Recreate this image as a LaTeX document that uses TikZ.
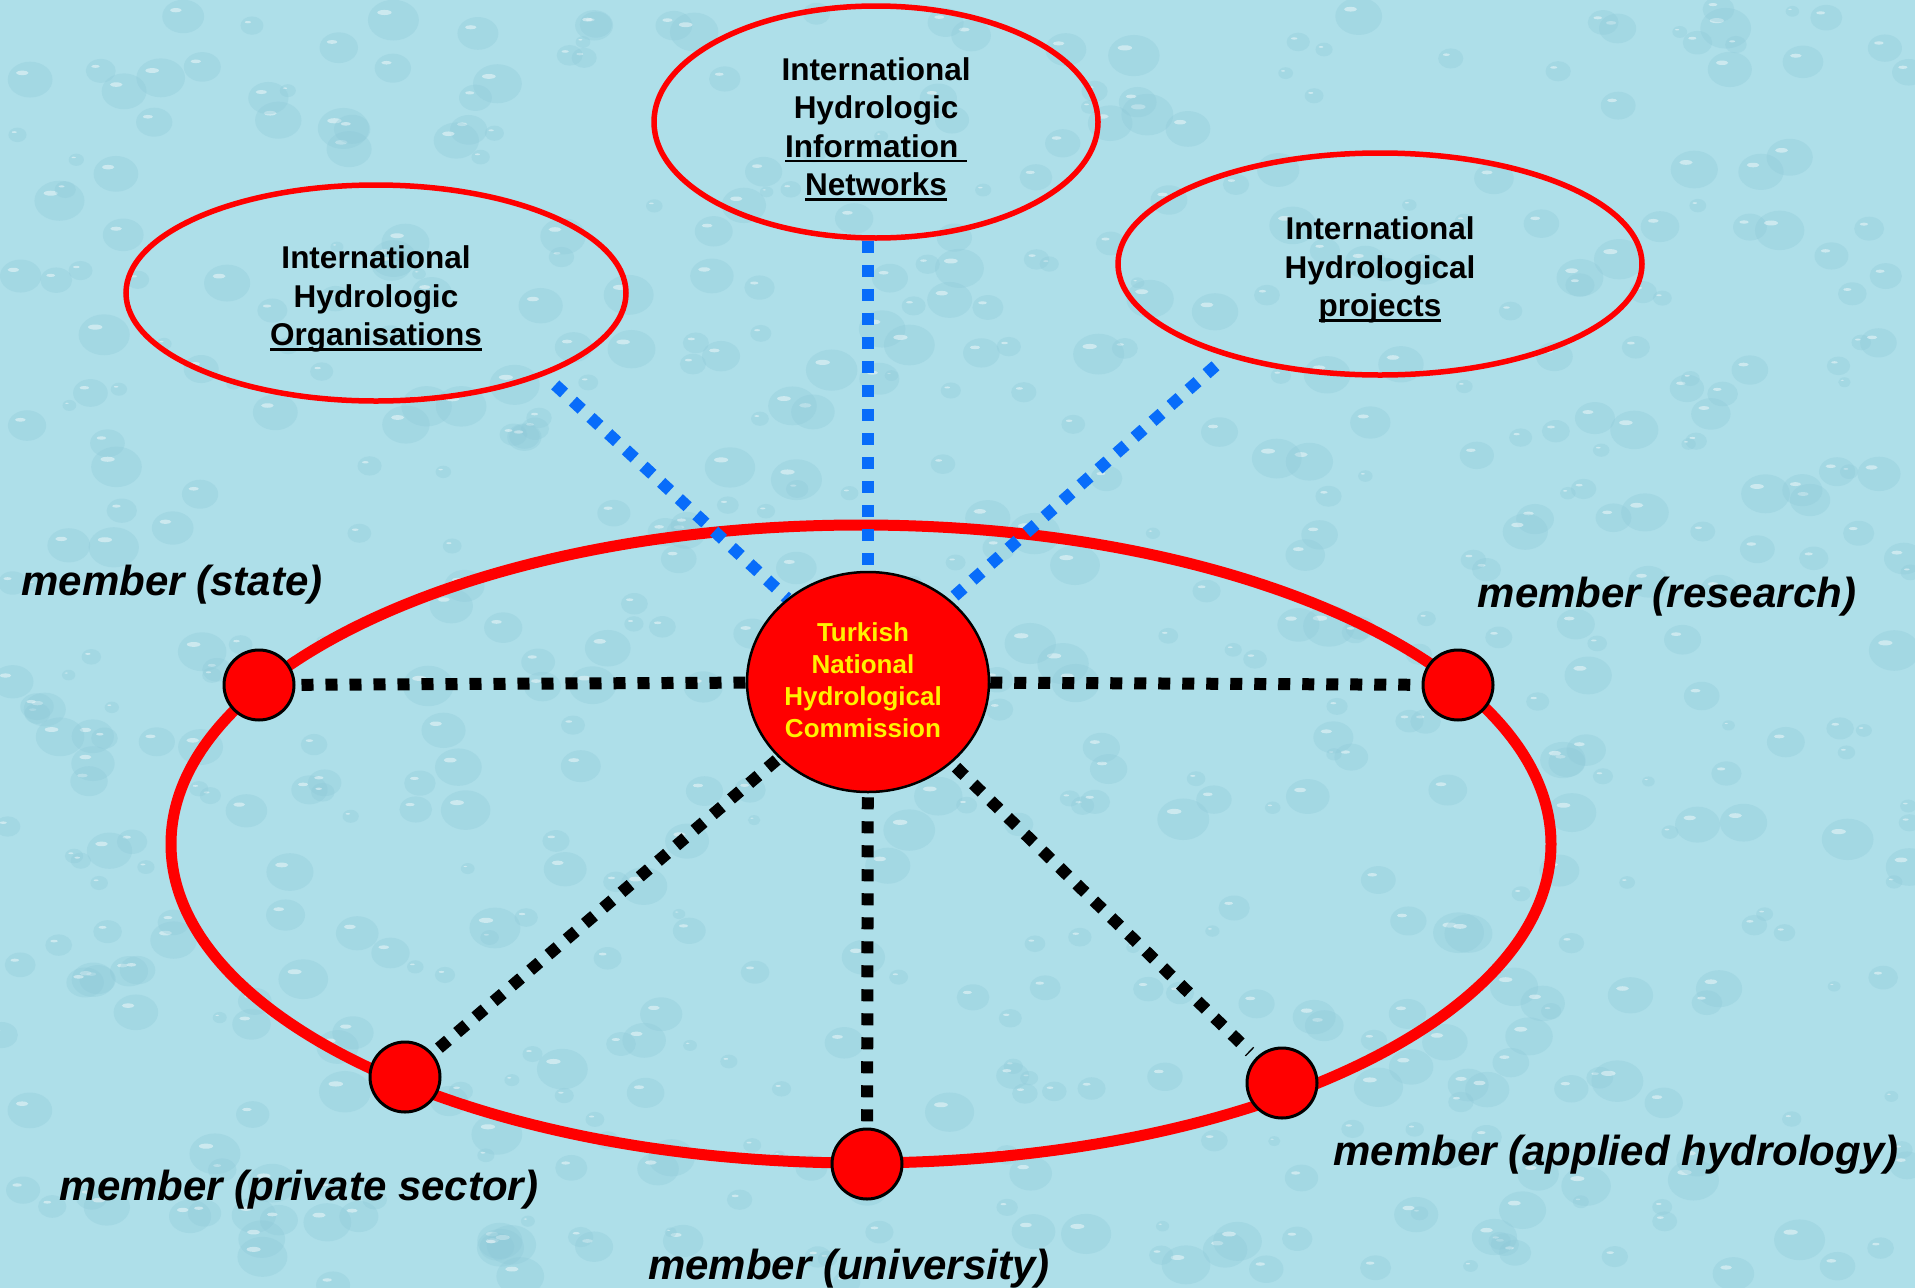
\documentclass[tikz,border=0pt]{standalone}
\usepackage{fontspec}
\setmainfont{Liberation Sans}
\usetikzlibrary{shapes.geometric}
\pgfdeclarelayer{bg}
\pgfsetlayers{bg,main}
\definecolor{water}{RGB}{174,223,233}
\definecolor{drop}{RGB}{140,200,216}
\definecolor{linkblue}{RGB}{8,108,250}
\newcommand\myul[1]{\setbox0\hbox{#1}\rlap{\rule[-5pt]{\wd0}{2.5pt}}\box0}
\begin{document}
\begin{tikzpicture}[x=1pt,y=-1pt,
  intl/.style={ellipse, draw=red, line width=5.5pt, inner sep=0pt},
  intltext/.style={align=center, inner sep=0pt, font=\fontsize{31.5}{38.5}\selectfont\bfseries},
  member/.style={circle, fill=red, draw=black, line width=3pt, minimum size=70pt, inner sep=0pt},
  memlabel/.style={font=\fontsize{42}{50}\selectfont\bfseries\itshape, inner sep=0pt},
  blink/.style={draw=linkblue, line width=12pt, dash pattern=on 12pt off 12pt},
  klink/.style={draw=black, line width=12pt, dash pattern=on 12pt off 12pt},
]
\useasboundingbox (0,0) rectangle (1915,1288);

% international partners
\node[intl, minimum width=500pt, minimum height=216pt,
  label={[intltext, yshift=-6pt]center:International\\Hydrologic\\\myul{Organisations}}] (orgs) at (376,293) {};
\node[intl, minimum width=444pt, minimum height=232pt,
  label={[intltext, yshift=-7pt]center:International\\Hydrologic\\\myul{Information\ }\\\myul{Networks}}] (nets) at (876,122) {};
\node[intl, minimum width=524pt, minimum height=222pt,
  label={[intltext, yshift=-6pt]center:International\\Hydrological\\\myul{projects}}] (proj) at (1380,264) {};

% commission
\node[ellipse, fill=red, draw=black, line width=2.5pt, minimum width=242pt, minimum height=220pt,
  inner sep=0pt,
  label={[align=center, inner sep=0pt, text=yellow, font=\fontsize{26}{31.8}\selectfont\bfseries,
    xshift=-5pt, yshift=2pt]center:Turkish\\National\\Hydrological\\Commission}]
  (tnhc) at (868,682) {};

% members
\node[member] (state) at (259,685) {};
\node[member] (research) at (1458,685) {};
\node[member] (private) at (405,1077) {};
\node[member] (uni) at (867,1164) {};
\node[member] (applied) at (1282,1083) {};

\node[memlabel] (lstate) at (172,585) {member (state)};
\node[memlabel] (lresearch) at (1667,597) {member (research)};
\node[memlabel] (lprivate) at (299,1190) {member (private sector)};
\node[memlabel] (luni) at (849,1269) {member (university)};
\node[memlabel] (lapplied) at (1616,1155) {member (applied hydrology)};

\begin{pgfonlayer}{bg}
\fill[water] (0,0) rectangle (1915,1288);
\pgfmathsetseed{12}
\foreach \i in {1,...,600}{
  \pgfmathsetmacro\px{rnd*1915}
  \pgfmathsetmacro\py{rnd*1288}
  \pgfmathsetmacro\rr{6+rnd*20}
  \fill[drop, opacity=0.3] (\px,\py) ellipse [x radius=\rr pt, y radius=0.8*\rr pt];
  \fill[white, opacity=0.45] (\px-0.35*\rr,\py-0.3*\rr) ellipse [x radius=0.28*\rr pt, y radius=0.1*\rr pt];
}
\draw[red, line width=11pt] (861,844) ellipse [x radius=690pt, y radius=319pt];
\draw[blink, shorten <=14pt] (orgs.-26) -- (tnhc.134);
\draw[blink] (tnhc.north |- nets.south) -- (tnhc.north);
\draw[blink, shorten <=14pt] (proj.-149) -- (tnhc.45);
\draw[klink, shorten <=6pt] (state) -- (tnhc);
\draw[klink, shorten >=4pt] (tnhc) -- (research);
\draw[klink, shorten <=8pt] (private) -- (tnhc);
\draw[klink, shorten <=4pt] (tnhc) -- (uni);
\draw[klink, shorten <=6pt, shorten >=8pt] (tnhc) -- (applied);
\end{pgfonlayer}
\end{tikzpicture}
\end{document}
